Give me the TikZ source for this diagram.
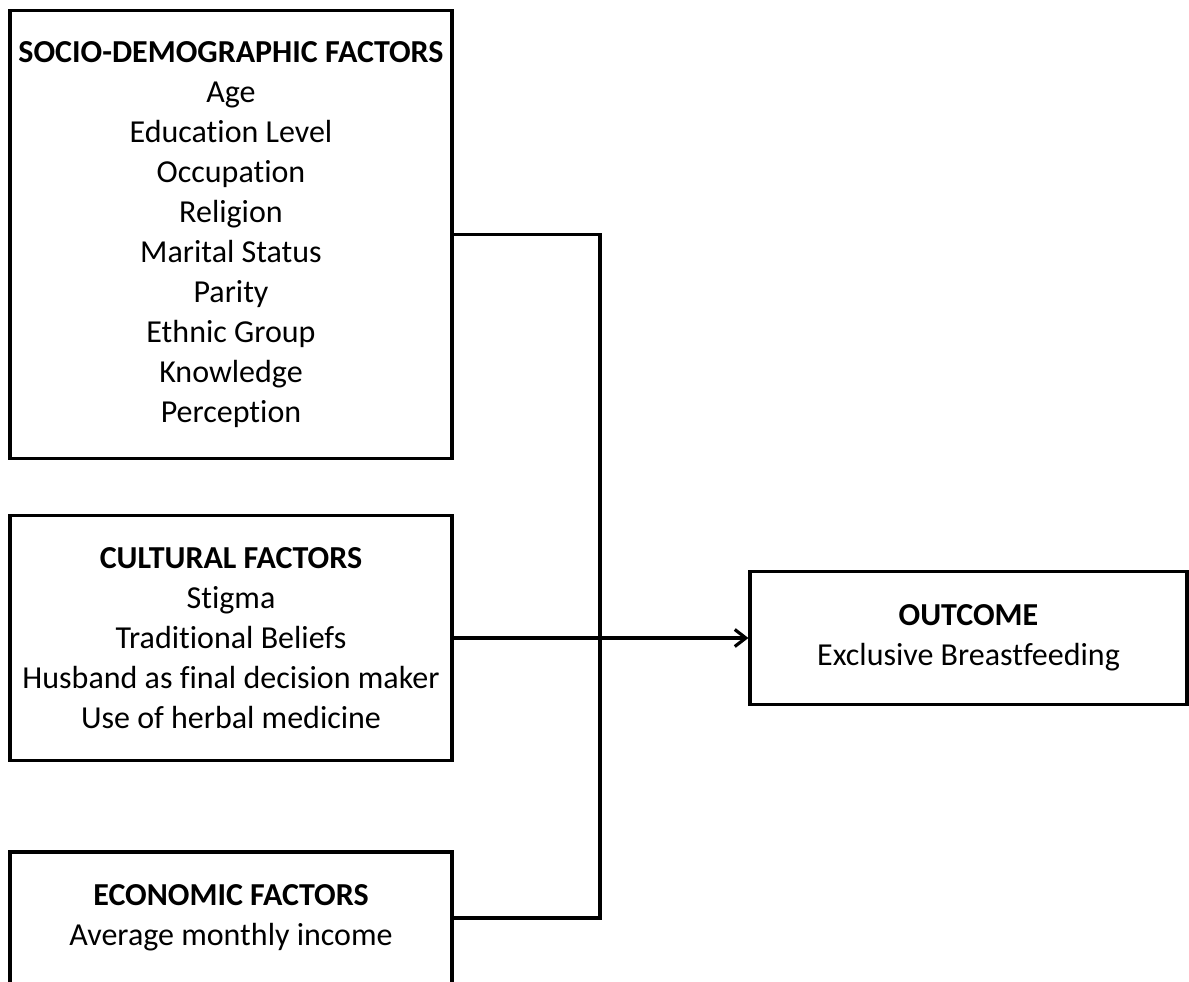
\documentclass[tikz,border=0pt]{standalone}
\usepackage{fontspec}
\setmainfont{Carlito}[RawFeature={-liga;-clig;-calt;-dlig}]
\usetikzlibrary{arrows.meta}
\begin{document}
\begin{tikzpicture}[x=1pt,y=-1pt,
  box/.style={draw, line width=3.2pt, align=center, inner sep=0pt,
    font=\fontsize{32}{40}\selectfont},
  link/.style={line width=3.2pt},
  arr/.style={line width=3.2pt, -{Straight Barb[length=11pt,width=17pt,line width=3.2pt]}}]
\useasboundingbox (0,0) rectangle (1189,982);
\node[box, minimum width=442pt, minimum height=448pt] (b1) at (231,234.5)
  {\textbf{SOCIO-DEMOGRAPHIC FACTORS}\\Age\\Education Level\\Occupation\\Religion\\Marital Status\\Parity\\Ethnic Group\\Knowledge\\Perception};
\node[box, minimum width=442pt, minimum height=245pt] (b2) at (231,638)
  {\textbf{CULTURAL FACTORS}\\Stigma\\Traditional Beliefs\\Husband as final decision maker\\Use of herbal medicine};
\node[box, minimum width=442pt, minimum height=132pt] (b3) at (231,918)
  {\textbf{ECONOMIC FACTORS}\\Average monthly income};
\node[box, minimum width=437pt, minimum height=133pt] (out) at (968.5,638)
  {\textbf{OUTCOME}\\Exclusive Breastfeeding};
\coordinate (jt) at (600,234.5);
\coordinate (jb) at (600,918);
\draw[link] (b1.east) -- (jt) -- (jb) -- (b3.east);
\draw[arr] (b2.east) -- (out.west);
\end{tikzpicture}
\end{document}
